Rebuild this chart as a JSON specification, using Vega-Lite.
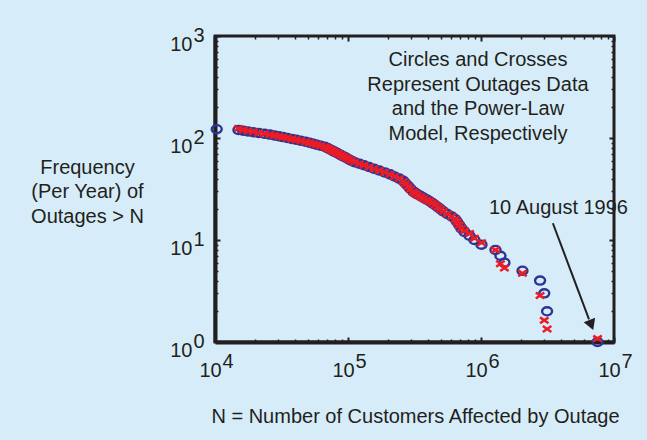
{
  "$schema": "https://vega.github.io/schema/vega-lite/v6.json",
  "width": 399,
  "height": 306,
  "autosize": {"type": "none"},
  "padding": {"left": 215, "top": 36, "right": 33, "bottom": 98},
  "background": "#d6edf9",
  "config": {
    "font": "Liberation Sans",
    "view": {"stroke": "#231f20", "strokeWidth": 3, "fill": null},
    "axis": {
      "grid": false,
      "labelColor": "#231f20",
      "titleColor": "#231f20",
      "tickColor": "#231f20",
      "domainColor": "#231f20",
      "labelFontSize": 20,
      "titleFontSize": 20,
      "titleFontWeight": "normal",
      "labelFlush": false,
      "labelOverlap": false,
      "labelBound": false
    }
  },
  "datasets": {
    "outages": [
      {"customers": 7520000, "frequency": 1},
      {"customers": 3140000, "frequency": 2},
      {"customers": 2990000, "frequency": 3},
      {"customers": 2780000, "frequency": 4},
      {"customers": 2050000, "frequency": 5},
      {"customers": 1500000, "frequency": 6},
      {"customers": 1400000, "frequency": 7},
      {"customers": 1285000, "frequency": 8},
      {"customers": 1009000, "frequency": 9},
      {"customers": 893000, "frequency": 10},
      {"customers": 820000, "frequency": 11},
      {"customers": 752000, "frequency": 12},
      {"customers": 713000, "frequency": 13},
      {"customers": 686000, "frequency": 14},
      {"customers": 662000, "frequency": 15},
      {"customers": 641000, "frequency": 16},
      {"customers": 603000, "frequency": 17},
      {"customers": 558000, "frequency": 18},
      {"customers": 522000, "frequency": 19},
      {"customers": 497000, "frequency": 20},
      {"customers": 474000, "frequency": 21},
      {"customers": 451000, "frequency": 22},
      {"customers": 431000, "frequency": 23},
      {"customers": 411000, "frequency": 24},
      {"customers": 390000, "frequency": 25},
      {"customers": 370000, "frequency": 26},
      {"customers": 352000, "frequency": 27},
      {"customers": 334000, "frequency": 28},
      {"customers": 320000, "frequency": 29},
      {"customers": 308000, "frequency": 30},
      {"customers": 294000, "frequency": 32},
      {"customers": 282000, "frequency": 34},
      {"customers": 270000, "frequency": 36},
      {"customers": 260000, "frequency": 38},
      {"customers": 243000, "frequency": 40},
      {"customers": 224000, "frequency": 42},
      {"customers": 207000, "frequency": 44},
      {"customers": 189000, "frequency": 46},
      {"customers": 172000, "frequency": 48},
      {"customers": 157000, "frequency": 50},
      {"customers": 144000, "frequency": 52},
      {"customers": 132000, "frequency": 54},
      {"customers": 122000, "frequency": 56},
      {"customers": 112000, "frequency": 58},
      {"customers": 106000, "frequency": 60},
      {"customers": 101000, "frequency": 62},
      {"customers": 96800, "frequency": 64},
      {"customers": 92300, "frequency": 66},
      {"customers": 88500, "frequency": 68},
      {"customers": 84700, "frequency": 70},
      {"customers": 81500, "frequency": 72},
      {"customers": 78100, "frequency": 74},
      {"customers": 75300, "frequency": 76},
      {"customers": 72300, "frequency": 78},
      {"customers": 69800, "frequency": 80},
      {"customers": 66800, "frequency": 82},
      {"customers": 62200, "frequency": 84},
      {"customers": 58200, "frequency": 86},
      {"customers": 54600, "frequency": 88},
      {"customers": 51200, "frequency": 90},
      {"customers": 47900, "frequency": 92},
      {"customers": 44000, "frequency": 94},
      {"customers": 40700, "frequency": 96},
      {"customers": 37800, "frequency": 98},
      {"customers": 35000, "frequency": 100},
      {"customers": 32400, "frequency": 102},
      {"customers": 30200, "frequency": 104},
      {"customers": 28000, "frequency": 106},
      {"customers": 25800, "frequency": 108},
      {"customers": 23500, "frequency": 110},
      {"customers": 21300, "frequency": 112},
      {"customers": 19400, "frequency": 114},
      {"customers": 17700, "frequency": 116},
      {"customers": 16300, "frequency": 118},
      {"customers": 15000, "frequency": 120},
      {"customers": 10300, "frequency": 122}
    ],
    "model": [
      {"customers": 7520000, "frequency": 1.08},
      {"customers": 3140000, "frequency": 1.34},
      {"customers": 2990000, "frequency": 1.63},
      {"customers": 2780000, "frequency": 2.86},
      {"customers": 2050000, "frequency": 4.72},
      {"customers": 1500000, "frequency": 5.3},
      {"customers": 1400000, "frequency": 5.85},
      {"customers": 1285000, "frequency": 8.0},
      {"customers": 1009000, "frequency": 9.4},
      {"customers": 893000, "frequency": 10.4},
      {"customers": 820000, "frequency": 11.6},
      {"customers": 752000, "frequency": 12.3},
      {"customers": 713000, "frequency": 13},
      {"customers": 686000, "frequency": 14},
      {"customers": 662000, "frequency": 15},
      {"customers": 641000, "frequency": 16},
      {"customers": 603000, "frequency": 17},
      {"customers": 558000, "frequency": 18},
      {"customers": 522000, "frequency": 19},
      {"customers": 497000, "frequency": 20},
      {"customers": 474000, "frequency": 21},
      {"customers": 451000, "frequency": 22},
      {"customers": 431000, "frequency": 23},
      {"customers": 411000, "frequency": 24},
      {"customers": 390000, "frequency": 24.5},
      {"customers": 370000, "frequency": 25.5},
      {"customers": 352000, "frequency": 26.5},
      {"customers": 334000, "frequency": 27.5},
      {"customers": 320000, "frequency": 28.5},
      {"customers": 308000, "frequency": 29.5},
      {"customers": 294000, "frequency": 31.5},
      {"customers": 282000, "frequency": 33.5},
      {"customers": 270000, "frequency": 35.5},
      {"customers": 260000, "frequency": 37.5},
      {"customers": 243000, "frequency": 40},
      {"customers": 224000, "frequency": 42},
      {"customers": 207000, "frequency": 44},
      {"customers": 189000, "frequency": 46},
      {"customers": 172000, "frequency": 48},
      {"customers": 157000, "frequency": 50},
      {"customers": 144000, "frequency": 52},
      {"customers": 132000, "frequency": 54},
      {"customers": 122000, "frequency": 56},
      {"customers": 112000, "frequency": 58},
      {"customers": 106000, "frequency": 60},
      {"customers": 101000, "frequency": 62},
      {"customers": 96800, "frequency": 64},
      {"customers": 92300, "frequency": 66},
      {"customers": 88500, "frequency": 68},
      {"customers": 84700, "frequency": 70},
      {"customers": 81500, "frequency": 72},
      {"customers": 78100, "frequency": 74},
      {"customers": 75300, "frequency": 76},
      {"customers": 72300, "frequency": 78},
      {"customers": 69800, "frequency": 80},
      {"customers": 66800, "frequency": 82},
      {"customers": 62200, "frequency": 84},
      {"customers": 58200, "frequency": 86},
      {"customers": 54600, "frequency": 88},
      {"customers": 51200, "frequency": 90},
      {"customers": 47900, "frequency": 92},
      {"customers": 44000, "frequency": 94},
      {"customers": 40700, "frequency": 96},
      {"customers": 37800, "frequency": 98},
      {"customers": 35000, "frequency": 100},
      {"customers": 32400, "frequency": 102},
      {"customers": 30200, "frequency": 104},
      {"customers": 28000, "frequency": 106},
      {"customers": 25800, "frequency": 108},
      {"customers": 23500, "frequency": 110},
      {"customers": 21300, "frequency": 112},
      {"customers": 19400, "frequency": 115},
      {"customers": 17700, "frequency": 117},
      {"customers": 16300, "frequency": 120},
      {"customers": 15000, "frequency": 124}
    ],
    "arrow": [
      {"x1": 3470000, "y1": 14.6, "x2": 6490000, "y2": 1.67}
    ],
    "arrowhead": [
      {"x": 6750000, "y": 1.47}
    ],
    "note": [
      {"x": 949000, "y": 582, "lines": ["Circles and Crosses", "Represent Outages Data", "and the Power-Law", "Model, Respectively"]}
    ],
    "event": [
      {"x": 1148000, "y": 20.5, "label": "10 August 1996"}
    ]
  },
  "layer": [
    {
      "data": {"name": "outages"},
      "mark": {"type": "point", "shape": "M1,0A1,0.81,0,1,1,-1,0A1,0.81,0,1,1,1,0Z", "filled": false, "stroke": "#2b3595", "strokeWidth": 2.4, "size": 100, "opacity": 1},
      "encoding": {
        "x": {
          "field": "customers", "type": "quantitative",
          "scale": {"type": "log", "domain": [10000, 10000000], "nice": false},
          "axis": {
            "orient": "bottom", "values": [10000, 100000, 1000000, 10000000],
            "labelExpr": "'10'", "labelOffset": -5, "labelBaseline": "middle", "labelPadding": 33,
            "tickSize": -5, "tickWidth": 2, "domainWidth": 4,
            "title": "N = Number of Customers Affected by Outage",
            "titleX": 200, "titleY": 74, "titleAlign": "center", "titleBaseline": "middle",
            "encode": {"labels": {"update": {"dy": {"signal": "datum.value >= 1000000 ? -4 : 0"}}}}
          }
        },
        "y": {
          "field": "frequency", "type": "quantitative",
          "scale": {"type": "log", "domain": [1, 1000], "nice": false},
          "axis": {
            "orient": "left", "values": [1, 10, 100, 1000],
            "labelExpr": "'10'", "labelBaseline": "middle", "labelOffset": 8, "labelPadding": 28,
            "tickSize": -5, "tickWidth": 2, "domainWidth": 4,
            "title": ["Frequency", "(Per Year) of", "Outages > N"],
            "titleAngle": 0, "titleAlign": "center", "titleBaseline": "middle",
            "titleX": -128, "titleY": 131, "titleLineHeight": 24.5
          }
        }
      }
    },
    {
      "data": {"name": "model"},
      "mark": {"type": "point", "shape": "M-1,-0.7L1,0.7M1,-0.7L-1,0.7", "filled": false, "stroke": "#ec1c24", "strokeWidth": 2.5, "size": 72, "opacity": 1},
      "encoding": {
        "x": {
          "field": "customers", "type": "quantitative",
          "scale": {"type": "log", "domain": [10000, 10000000], "nice": false},
          "axis": {
            "orient": "bottom", "values": [10000, 100000, 1000000, 10000000],
            "labelExpr": "'' + round(log(datum.value) / LN10)",
            "labelAlign": "left", "labelOffset": 7, "labelBaseline": "middle", "labelPadding": 19,
            "ticks": false, "domain": false, "title": null,
            "encode": {"labels": {"update": {"dy": {"signal": "datum.value >= 1000000 ? -4 : 0"}}}}
          }
        },
        "y": {
          "field": "frequency", "type": "quantitative",
          "scale": {"type": "log", "domain": [1, 1000], "nice": false},
          "axis": {
            "orient": "left", "values": [1, 10, 100, 1000],
            "labelExpr": "'' + round(log(datum.value) / LN10)",
            "labelAlign": "left", "labelBaseline": "middle", "labelOffset": -1, "labelPadding": 22,
            "ticks": false, "domain": false, "title": null
          }
        }
      }
    },
    {
      "data": {"name": "arrow"},
      "mark": {"type": "rule", "color": "#231f20", "strokeWidth": 2},
      "encoding": {
        "x": {
          "field": "x1", "type": "quantitative",
          "scale": {"type": "log", "domain": [10000, 10000000], "nice": false},
          "axis": {"orient": "top", "values": [10000, 100000, 1000000, 10000000], "labels": false, "tickSize": -5, "tickWidth": 2, "domain": false, "title": null}
        },
        "y": {
          "field": "y1", "type": "quantitative",
          "scale": {"type": "log", "domain": [1, 1000], "nice": false},
          "axis": {"orient": "right", "values": [1, 10, 100, 1000], "labels": false, "tickSize": -5, "tickWidth": 2, "domain": false, "title": null}
        },
        "x2": {"field": "x2"},
        "y2": {"field": "y2"}
      }
    },
    {
      "data": {"name": "arrowhead"},
      "mark": {"type": "point", "shape": "triangle-down", "filled": true, "color": "#231f20", "size": 150, "angle": 339, "opacity": 1},
      "encoding": {
        "x": {
          "field": "x", "type": "quantitative",
          "scale": {"type": "log", "domain": [10000, 10000000], "nice": false},
          "axis": {"orient": "bottom", "values": [20000, 30000, 40000, 50000, 60000, 70000, 80000, 90000, 200000, 300000, 400000, 500000, 600000, 700000, 800000, 900000, 2000000, 3000000, 4000000, 5000000, 6000000, 7000000, 8000000, 9000000], "labels": false, "tickSize": -3, "tickWidth": 1.5, "domain": false, "title": null}
        },
        "y": {
          "field": "y", "type": "quantitative",
          "scale": {"type": "log", "domain": [1, 1000], "nice": false},
          "axis": {"orient": "left", "values": [2, 3, 4, 5, 6, 7, 8, 9, 20, 30, 40, 50, 60, 70, 80, 90, 200, 300, 400, 500, 600, 700, 800, 900], "labels": false, "tickSize": -3, "tickWidth": 1.5, "domain": false, "title": null}
        }
      }
    },
    {
      "data": {"name": "note"},
      "mark": {"type": "text", "align": "center", "baseline": "middle", "fontSize": 20, "lineHeight": 24.7, "color": "#231f20"},
      "encoding": {
        "x": {
          "field": "x", "type": "quantitative",
          "scale": {"type": "log", "domain": [10000, 10000000], "nice": false},
          "axis": {"orient": "top", "values": [20000, 30000, 40000, 50000, 60000, 70000, 80000, 90000, 200000, 300000, 400000, 500000, 600000, 700000, 800000, 900000, 2000000, 3000000, 4000000, 5000000, 6000000, 7000000, 8000000, 9000000], "labels": false, "tickSize": -3, "tickWidth": 1.5, "domain": false, "title": null}
        },
        "y": {
          "field": "y", "type": "quantitative",
          "scale": {"type": "log", "domain": [1, 1000], "nice": false},
          "axis": {"orient": "right", "values": [2, 3, 4, 5, 6, 7, 8, 9, 20, 30, 40, 50, 60, 70, 80, 90, 200, 300, 400, 500, 600, 700, 800, 900], "labels": false, "tickSize": -3, "tickWidth": 1.5, "domain": false, "title": null}
        },
        "text": {"field": "lines", "type": "nominal"}
      }
    },
    {
      "data": {"name": "event"},
      "mark": {"type": "text", "align": "left", "baseline": "middle", "fontSize": 20, "color": "#231f20"},
      "encoding": {
        "x": {"field": "x", "type": "quantitative", "scale": {"type": "log", "domain": [10000, 10000000], "nice": false}, "axis": null},
        "y": {"field": "y", "type": "quantitative", "scale": {"type": "log", "domain": [1, 1000], "nice": false}, "axis": null},
        "text": {"field": "label", "type": "nominal"}
      }
    }
  ],
  "resolve": {"axis": {"x": "independent", "y": "independent"}}
}
